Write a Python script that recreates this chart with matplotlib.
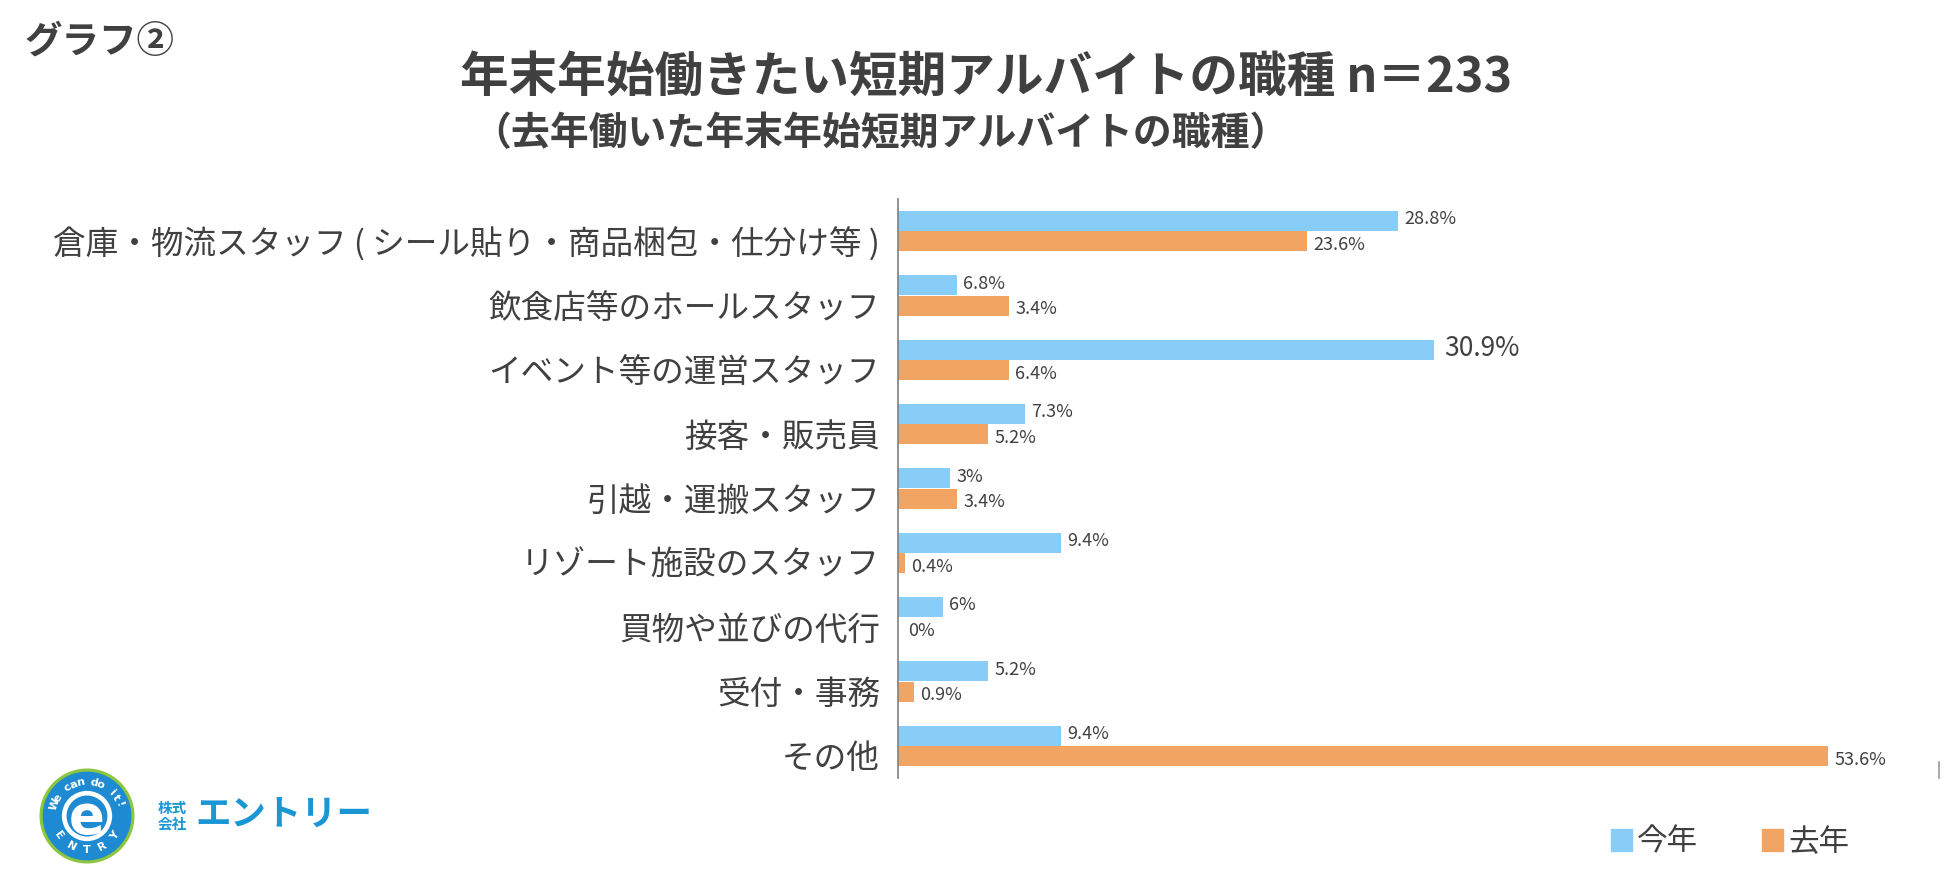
import numpy as np
import matplotlib
matplotlib.use("Agg")
import matplotlib.pyplot as plt
from matplotlib.patches import Circle, Patch
from matplotlib.transforms import ScaledTranslation

plt.rcParams['font.family'] = ['Noto Sans CJK JP', 'DejaVu Sans']

# ---- data ----
categories = [
    "倉庫・物流スタッフ ( シール貼り・商品梱包・仕分け等 )",
    "飲食店等のホールスタッフ",
    "イベント等の運営スタッフ",
    "接客・販売員",
    "引越・運搬スタッフ",
    "リゾート施設のスタッフ",
    "買物や並びの代行",
    "受付・事務",
    "その他",
]
# bar lengths as drawn in the picture (%)
this_year = [28.8, 3.4, 30.9, 7.3, 3.0, 9.4, 2.6, 5.2, 9.4]
last_year = [23.6, 6.4, 6.4, 5.2, 3.4, 0.4, 0.0, 0.9, 53.6]
# printed value labels
this_year_labels = ["28.8%", "6.8%", "30.9%", "7.3%", "3%", "9.4%", "6%", "5.2%", "9.4%"]
last_year_labels = ["23.6%", "3.4%", "6.4%", "5.2%", "3.4%", "0.4%", "0%", "0.9%", "53.6%"]
series_names = ["今年", "去年"]
XMAX = 60

BLUE = "#88CDF7"
ORANGE = "#F2A462"
TXT = "#404040"

W, H = 1950, 886
fig = plt.figure(figsize=(W / 100, H / 100), dpi=100)
fig.patch.set_facecolor("white")


def X(px):
    return px / W


def Y(py):
    return 1 - py / H


# ---- main axes ----
ax_l, ax_r, ax_t, ax_b = 898, 1939, 199, 778
ax = fig.add_axes([X(ax_l), Y(ax_b), X(ax_r) - X(ax_l), (ax_b - ax_t) / H])

y = np.arange(len(categories))
bh = 0.31
b1 = ax.barh(y - bh / 2 - 0.005, this_year, height=bh, color=BLUE, label=series_names[0])
b2 = ax.barh(y + bh / 2 + 0.005, last_year, height=bh, color=ORANGE, label=series_names[1])

t1 = ax.bar_label(b1, labels=this_year_labels, padding=4.5, fontsize=13, color=TXT)
t2 = ax.bar_label(b2, labels=last_year_labels, padding=4.5, fontsize=13, color=TXT)
for t in t1:
    t.xyann = (4.5, 1)
for t in t2:
    t.xyann = (4.5, -2.5)
# the 30.9% label is printed larger in the original
t1[2].set_fontsize(19)
t1[2].xyann = (7, 1)
t2[6].xyann = (7.5, -2.5)

ax.set_xlim(0, XMAX)
ax.set_ylim(len(categories) - 0.5, -0.5)
ax.set_yticks(y)
ax.set_yticklabels(categories, fontsize=23.5, color=TXT)
ax.tick_params(axis="y", length=0, pad=13)
shift = ScaledTranslation(0, -0.10, fig.dpi_scale_trans)
for lab in ax.get_yticklabels():
    lab.set_transform(lab.get_transform() + shift)
ax.set_xticks([])
for s in ["top", "right", "bottom"]:
    ax.spines[s].set_visible(False)
ax.spines["left"].set_color("#808080")
ax.spines["left"].set_linewidth(1.2)
ax.axvline(XMAX, ymin=0, ymax=0.028, color="#9a9a9a", lw=1.2, clip_on=False)

ax.legend(handles=[Patch(color=BLUE), Patch(color=ORANGE)], labels=series_names,
          loc="center", bbox_to_anchor=(X(1730), Y(842)), bbox_transform=fig.transFigure,
          ncol=2, fontsize=22, frameon=False, handlelength=0.7, handleheight=0.7,
          handletextpad=0.15, columnspacing=2.1, labelcolor=TXT)

# ---- titles ----
fig.text(X(25), Y(41), "グラフ②", fontsize=27, fontweight="bold", color=TXT,
         ha="left", va="center")
fig.text(X(986), Y(77), "年末年始働きたい短期アルバイトの職種 n＝233", fontsize=35,
         fontweight="bold", color=TXT, ha="center", va="center")
fig.text(X(880), Y(134), "（去年働いた年末年始短期アルバイトの職種）", fontsize=28,
         fontweight="bold", color=TXT, ha="center", va="center")

# ---- logo ----
LB = "#1E8AD2"
LT = "#1A96D4"
size = 104
lax = fig.add_axes([X(87 - size / 2), Y(816 + size / 2), size / W, size / H])
lax.set_xlim(-1, 1)
lax.set_ylim(-1, 1)
lax.set_aspect("equal")
lax.axis("off")
lax.add_patch(Circle((0, 0), 0.90, color="#8CC63F"))
lax.add_patch(Circle((0, 0), 0.84, color=LB))
lax.add_patch(Circle((0, 0), 0.47, color="white"))
lax.add_patch(Circle((0, 0), 0.38, color=LB))
lax.text(0, -0.04, "e", fontsize=38, fontweight="bold", color="white",
         ha="center", va="center", family="DejaVu Sans")
top_txt = "We can do it!"
angs = np.linspace(160, 20, len(top_txt))
for ch, a in zip(top_txt, angs):
    r = 0.66
    lax.text(r * np.cos(np.radians(a)), r * np.sin(np.radians(a)), ch, fontsize=8,
             fontweight="bold", color="white", ha="center", va="center",
             rotation=a - 90, family="DejaVu Sans")
bot_txt = "ENTRY"
angs = np.linspace(-145, -35, len(bot_txt))
for ch, a in zip(bot_txt, angs):
    r = 0.66
    lax.text(r * np.cos(np.radians(a)), r * np.sin(np.radians(a)), ch, fontsize=8,
             fontweight="bold", color="white", ha="center", va="center",
             rotation=a + 90, family="DejaVu Sans")

fig.text(X(158), Y(808), "株式", fontsize=10.5, fontweight="bold", color=LT,
         ha="left", va="center")
fig.text(X(158), Y(823), "会社", fontsize=10.5, fontweight="bold", color=LT,
         ha="left", va="center")
fig.text(X(195), Y(814), "エントリー", fontsize=25.5, fontweight="bold", color=LT,
         ha="left", va="center")

fig.savefig("out.png", dpi=100, facecolor="white")
